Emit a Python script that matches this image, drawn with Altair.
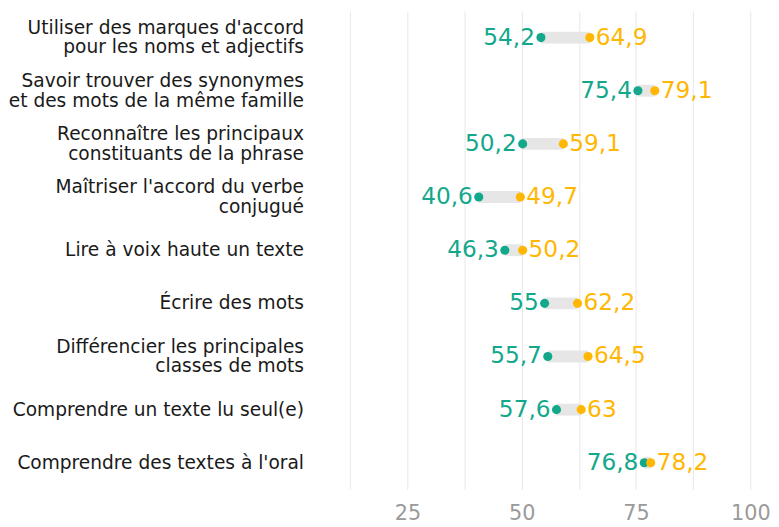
import altair as alt
import pandas as pd

categories = [
    "Utiliser des marques d'accord|pour les noms et adjectifs",
    "Savoir trouver des synonymes|et des mots de la même famille",
    "Reconnaître les principaux|constituants de la phrase",
    "Maîtriser l'accord du verbe|conjugué",
    "Lire à voix haute un texte",
    "Écrire des mots",
    "Différencier les principales|classes de mots",
    "Comprendre un texte lu seul(e)",
    "Comprendre des textes à l'oral",
]
low_values = [54.2, 75.4, 50.2, 40.6, 46.3, 55.0, 55.7, 57.6, 76.8]
high_values = [64.9, 79.1, 59.1, 49.7, 50.2, 62.2, 64.5, 63.0, 78.2]
x_ticks = [12.5, 25, 37.5, 50, 62.5, 75, 87.5, 100]


def fr(v):
    s = f"{v:.1f}".rstrip("0").rstrip(".")
    return s.replace(".", ",")


df = pd.DataFrame({
    "cat": categories,
    "low": low_values,
    "high": high_values,
    "low_lbl": [fr(v) for v in low_values],
    "high_lbl": [fr(v) for v in high_values],
})

TEAL = "#13a88b"
ORANGE = "#ffb703"
FONT = "DejaVu Sans"

base = alt.Chart(df)

y_enc = alt.Y(
    "cat:N",
    sort=categories,
    scale=alt.Scale(paddingOuter=0, paddingInner=0),
    axis=alt.Axis(
        title=None,
        labelExpr="split(datum.label, '|')",
        labelFontSize=18.8,
        labelFont=FONT,
        labelColor="#1a1a1a",
        labelLineHeight=20,
        labelPadding=45,
        labelOffset={"condition": {"test": "indexof(datum.label, '|') >= 0", "value": -10}, "value": 0},
        ticks=False,
        domain=False,
        grid=False,
        labelLimit=400,
    ),
)

x_scale = alt.Scale(domain=[12, 103], nice=False, zero=False)
x_axis = alt.Axis(
    title=None,
    values=x_ticks,
    labelExpr="datum.value % 25 == 0 ? datum.label : ''",
    labelFontSize=21,
    labelFont=FONT,
    labelColor="#9a9a9a",
    labelPadding=13,
    ticks=False,
    domain=False,
    grid=True,
    gridColor="#ebebeb",
    gridWidth=1.2,
)

seg = base.mark_rule(strokeWidth=12, color="#e6e6e6", strokeCap="butt").encode(
    x=alt.X("low:Q", scale=x_scale, axis=x_axis),
    x2="high:Q",
    y=y_enc,
)

pt_low = base.mark_circle(size=85, opacity=1, color=TEAL).encode(
    x=alt.X("low:Q", scale=x_scale), y=alt.Y("cat:N", sort=categories)
)
pt_high = base.mark_circle(size=85, opacity=1, color=ORANGE).encode(
    x=alt.X("high:Q", scale=x_scale), y=alt.Y("cat:N", sort=categories)
)
txt_low = base.mark_text(
    align="right", baseline="middle", dx=-6, fontSize=23.5, font=FONT, color=TEAL
).encode(x=alt.X("low:Q", scale=x_scale), y=alt.Y("cat:N", sort=categories), text="low_lbl:N")
txt_high = base.mark_text(
    align="left", baseline="middle", dx=6, fontSize=23.5, font=FONT, color=ORANGE
).encode(x=alt.X("high:Q", scale=x_scale), y=alt.Y("cat:N", sort=categories), text="high_lbl:N")

chart = (
    alt.layer(seg, pt_low, pt_high, txt_low, txt_high)
    .properties(width=421, height=484, padding=0, background="white")
    .configure_view(strokeWidth=0)
)

chart.save("out.html", embed_options={"renderer": "svg", "actions": False})
